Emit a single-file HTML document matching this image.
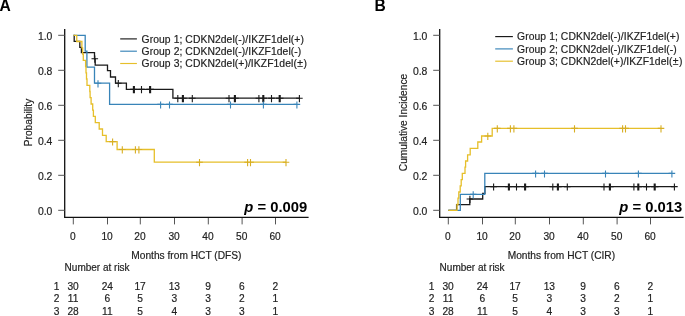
<!DOCTYPE html>
<html><head><meta charset="utf-8"><style>
html,body{margin:0;padding:0;background:#fff;}
svg{display:block;font-family:"Liberation Sans", sans-serif;will-change:transform;}
</style></head><body>
<svg width="685" height="316" viewBox="0 0 685 316">
<rect width="685" height="316" fill="#fff"/>
<text x="-0.5" y="10.7" font-size="15.6" font-weight="bold">A</text>
<path d="M64.70,29 V217.3 H308.60" fill="none" stroke="#111" stroke-width="1.3"/>
<path d="M58.20,210.30H64.70" stroke="#555" stroke-width="1"/>
<text x="52.40" y="214.70" font-size="10.4" text-anchor="end" fill="#222" stroke="#222" stroke-width="0.18">0.0</text>
<path d="M58.20,175.30H64.70" stroke="#555" stroke-width="1"/>
<text x="52.40" y="179.70" font-size="10.4" text-anchor="end" fill="#222" stroke="#222" stroke-width="0.18">0.2</text>
<path d="M58.20,140.30H64.70" stroke="#555" stroke-width="1"/>
<text x="52.40" y="144.70" font-size="10.4" text-anchor="end" fill="#222" stroke="#222" stroke-width="0.18">0.4</text>
<path d="M58.20,105.30H64.70" stroke="#555" stroke-width="1"/>
<text x="52.40" y="109.70" font-size="10.4" text-anchor="end" fill="#222" stroke="#222" stroke-width="0.18">0.6</text>
<path d="M58.20,70.30H64.70" stroke="#555" stroke-width="1"/>
<text x="52.40" y="74.70" font-size="10.4" text-anchor="end" fill="#222" stroke="#222" stroke-width="0.18">0.8</text>
<path d="M58.20,35.30H64.70" stroke="#555" stroke-width="1"/>
<text x="52.40" y="39.70" font-size="10.4" text-anchor="end" fill="#222" stroke="#222" stroke-width="0.18">1.0</text>
<path d="M73.30,218V224.4" stroke="#555" stroke-width="1"/>
<text x="72.90" y="240.2" font-size="10.2" text-anchor="middle" fill="#222" stroke="#222" stroke-width="0.18">0</text>
<path d="M107.50,218V224.4" stroke="#555" stroke-width="1"/>
<text x="107.10" y="240.2" font-size="10.2" text-anchor="middle" fill="#222" stroke="#222" stroke-width="0.18">10</text>
<path d="M140.30,218V224.4" stroke="#555" stroke-width="1"/>
<text x="139.90" y="240.2" font-size="10.2" text-anchor="middle" fill="#222" stroke="#222" stroke-width="0.18">20</text>
<path d="M174.50,218V224.4" stroke="#555" stroke-width="1"/>
<text x="174.10" y="240.2" font-size="10.2" text-anchor="middle" fill="#222" stroke="#222" stroke-width="0.18">30</text>
<path d="M208.30,218V224.4" stroke="#555" stroke-width="1"/>
<text x="207.90" y="240.2" font-size="10.2" text-anchor="middle" fill="#222" stroke="#222" stroke-width="0.18">40</text>
<path d="M242.10,218V224.4" stroke="#555" stroke-width="1"/>
<text x="241.70" y="240.2" font-size="10.2" text-anchor="middle" fill="#222" stroke="#222" stroke-width="0.18">50</text>
<path d="M275.50,218V224.4" stroke="#555" stroke-width="1"/>
<text x="275.10" y="240.2" font-size="10.2" text-anchor="middle" fill="#222" stroke="#222" stroke-width="0.18">60</text>
<text x="186.40" y="258.8" font-size="10.2" text-anchor="middle" fill="#222" stroke="#222" stroke-width="0.18">Months from HCT (DFS)</text>
<text transform="translate(31.70,122.5) rotate(-90)" font-size="10.2" text-anchor="middle" fill="#222" stroke="#222" stroke-width="0.18">Probability</text>
<text x="307.30" y="212.4" font-size="14.8" font-weight="bold" text-anchor="end"><tspan font-style="italic">p</tspan> = 0.009</text>
<path d="M120.20,38.90H136.90" stroke="#1a1a1a" stroke-width="1.15"/>
<text x="141.60" y="42.50" font-size="10.35" letter-spacing="0.07" fill="#222" stroke="#222" stroke-width="0.18">Group 1; CDKN2del(-)/IKZF1del(+)</text>
<path d="M120.20,51.20H136.90" stroke="#3884b8" stroke-width="1.15"/>
<text x="141.60" y="54.80" font-size="10.35" letter-spacing="0.07" fill="#222" stroke="#222" stroke-width="0.18">Group 2; CDKN2del(-)/IKZF1del(-)</text>
<path d="M120.20,63.50H136.90" stroke="#e6bf2a" stroke-width="1.15"/>
<text x="141.60" y="67.10" font-size="10.35" letter-spacing="0.07" fill="#222" stroke="#222" stroke-width="0.18">Group 3; CDKN2del(+)/IKZF1del(<tspan dx="0.3">±</tspan><tspan dx="0.6">)</tspan></text>
<text x="64.60" y="271.0" font-size="10" fill="#222" stroke="#222" stroke-width="0.18">Number at risk</text>
<text x="59.30" y="289.90" font-size="10.2" text-anchor="end" fill="#222" stroke="#222" stroke-width="0.18">1</text>
<text x="73.10" y="289.90" font-size="10.2" text-anchor="middle" fill="#222" stroke="#222" stroke-width="0.18">30</text>
<text x="107.30" y="289.90" font-size="10.2" text-anchor="middle" fill="#222" stroke="#222" stroke-width="0.18">24</text>
<text x="140.10" y="289.90" font-size="10.2" text-anchor="middle" fill="#222" stroke="#222" stroke-width="0.18">17</text>
<text x="174.30" y="289.90" font-size="10.2" text-anchor="middle" fill="#222" stroke="#222" stroke-width="0.18">13</text>
<text x="208.10" y="289.90" font-size="10.2" text-anchor="middle" fill="#222" stroke="#222" stroke-width="0.18">9</text>
<text x="241.90" y="289.90" font-size="10.2" text-anchor="middle" fill="#222" stroke="#222" stroke-width="0.18">6</text>
<text x="275.30" y="289.90" font-size="10.2" text-anchor="middle" fill="#222" stroke="#222" stroke-width="0.18">2</text>
<text x="59.30" y="302.30" font-size="10.2" text-anchor="end" fill="#222" stroke="#222" stroke-width="0.18">2</text>
<text x="73.10" y="302.30" font-size="10.2" text-anchor="middle" fill="#222" stroke="#222" stroke-width="0.18">11</text>
<text x="107.30" y="302.30" font-size="10.2" text-anchor="middle" fill="#222" stroke="#222" stroke-width="0.18">6</text>
<text x="140.10" y="302.30" font-size="10.2" text-anchor="middle" fill="#222" stroke="#222" stroke-width="0.18">5</text>
<text x="174.30" y="302.30" font-size="10.2" text-anchor="middle" fill="#222" stroke="#222" stroke-width="0.18">3</text>
<text x="208.10" y="302.30" font-size="10.2" text-anchor="middle" fill="#222" stroke="#222" stroke-width="0.18">3</text>
<text x="241.90" y="302.30" font-size="10.2" text-anchor="middle" fill="#222" stroke="#222" stroke-width="0.18">2</text>
<text x="275.30" y="302.30" font-size="10.2" text-anchor="middle" fill="#222" stroke="#222" stroke-width="0.18">1</text>
<text x="59.30" y="314.60" font-size="10.2" text-anchor="end" fill="#222" stroke="#222" stroke-width="0.18">3</text>
<text x="73.10" y="314.60" font-size="10.2" text-anchor="middle" fill="#222" stroke="#222" stroke-width="0.18">28</text>
<text x="107.30" y="314.60" font-size="10.2" text-anchor="middle" fill="#222" stroke="#222" stroke-width="0.18">11</text>
<text x="140.10" y="314.60" font-size="10.2" text-anchor="middle" fill="#222" stroke="#222" stroke-width="0.18">5</text>
<text x="174.30" y="314.60" font-size="10.2" text-anchor="middle" fill="#222" stroke="#222" stroke-width="0.18">4</text>
<text x="208.10" y="314.60" font-size="10.2" text-anchor="middle" fill="#222" stroke="#222" stroke-width="0.18">3</text>
<text x="241.90" y="314.60" font-size="10.2" text-anchor="middle" fill="#222" stroke="#222" stroke-width="0.18">3</text>
<text x="275.30" y="314.60" font-size="10.2" text-anchor="middle" fill="#222" stroke="#222" stroke-width="0.18">1</text>
<text x="374.5" y="10.7" font-size="15.6" font-weight="bold">B</text>
<path d="M439.70,29 V217.3 H683.60" fill="none" stroke="#111" stroke-width="1.3"/>
<path d="M433.20,210.30H439.70" stroke="#555" stroke-width="1"/>
<text x="427.40" y="214.70" font-size="10.4" text-anchor="end" fill="#222" stroke="#222" stroke-width="0.18">0.0</text>
<path d="M433.20,175.30H439.70" stroke="#555" stroke-width="1"/>
<text x="427.40" y="179.70" font-size="10.4" text-anchor="end" fill="#222" stroke="#222" stroke-width="0.18">0.2</text>
<path d="M433.20,140.30H439.70" stroke="#555" stroke-width="1"/>
<text x="427.40" y="144.70" font-size="10.4" text-anchor="end" fill="#222" stroke="#222" stroke-width="0.18">0.4</text>
<path d="M433.20,105.30H439.70" stroke="#555" stroke-width="1"/>
<text x="427.40" y="109.70" font-size="10.4" text-anchor="end" fill="#222" stroke="#222" stroke-width="0.18">0.6</text>
<path d="M433.20,70.30H439.70" stroke="#555" stroke-width="1"/>
<text x="427.40" y="74.70" font-size="10.4" text-anchor="end" fill="#222" stroke="#222" stroke-width="0.18">0.8</text>
<path d="M433.20,35.30H439.70" stroke="#555" stroke-width="1"/>
<text x="427.40" y="39.70" font-size="10.4" text-anchor="end" fill="#222" stroke="#222" stroke-width="0.18">1.0</text>
<path d="M448.30,218V224.4" stroke="#555" stroke-width="1"/>
<text x="447.90" y="240.2" font-size="10.2" text-anchor="middle" fill="#222" stroke="#222" stroke-width="0.18">0</text>
<path d="M482.50,218V224.4" stroke="#555" stroke-width="1"/>
<text x="482.10" y="240.2" font-size="10.2" text-anchor="middle" fill="#222" stroke="#222" stroke-width="0.18">10</text>
<path d="M515.30,218V224.4" stroke="#555" stroke-width="1"/>
<text x="514.90" y="240.2" font-size="10.2" text-anchor="middle" fill="#222" stroke="#222" stroke-width="0.18">20</text>
<path d="M549.50,218V224.4" stroke="#555" stroke-width="1"/>
<text x="549.10" y="240.2" font-size="10.2" text-anchor="middle" fill="#222" stroke="#222" stroke-width="0.18">30</text>
<path d="M583.30,218V224.4" stroke="#555" stroke-width="1"/>
<text x="582.90" y="240.2" font-size="10.2" text-anchor="middle" fill="#222" stroke="#222" stroke-width="0.18">40</text>
<path d="M617.10,218V224.4" stroke="#555" stroke-width="1"/>
<text x="616.70" y="240.2" font-size="10.2" text-anchor="middle" fill="#222" stroke="#222" stroke-width="0.18">50</text>
<path d="M650.50,218V224.4" stroke="#555" stroke-width="1"/>
<text x="650.10" y="240.2" font-size="10.2" text-anchor="middle" fill="#222" stroke="#222" stroke-width="0.18">60</text>
<text x="561.40" y="258.8" font-size="10.2" text-anchor="middle" fill="#222" stroke="#222" stroke-width="0.18">Months from HCT (CIR)</text>
<text transform="translate(406.70,122.5) rotate(-90)" font-size="10.2" text-anchor="middle" fill="#222" stroke="#222" stroke-width="0.18">Cumulative Incidence</text>
<text x="682.30" y="212.4" font-size="14.8" font-weight="bold" text-anchor="end"><tspan font-style="italic">p</tspan> = 0.013</text>
<path d="M495.20,36.60H512.90" stroke="#1a1a1a" stroke-width="1.15"/>
<text x="517.10" y="40.20" font-size="10.35" letter-spacing="0.07" fill="#222" stroke="#222" stroke-width="0.18">Group 1; CDKN2del(-)/IKZF1del(+)</text>
<path d="M495.20,48.90H512.90" stroke="#3884b8" stroke-width="1.15"/>
<text x="517.10" y="52.50" font-size="10.35" letter-spacing="0.07" fill="#222" stroke="#222" stroke-width="0.18">Group 2; CDKN2del(-)/IKZF1del(-)</text>
<path d="M495.20,61.20H512.90" stroke="#e6bf2a" stroke-width="1.15"/>
<text x="517.10" y="64.80" font-size="10.35" letter-spacing="0.07" fill="#222" stroke="#222" stroke-width="0.18">Group 3; CDKN2del(+)/IKZF1del(<tspan dx="0.3">±</tspan><tspan dx="0.6">)</tspan></text>
<text x="439.60" y="271.0" font-size="10" fill="#222" stroke="#222" stroke-width="0.18">Number at risk</text>
<text x="434.30" y="289.90" font-size="10.2" text-anchor="end" fill="#222" stroke="#222" stroke-width="0.18">1</text>
<text x="448.10" y="289.90" font-size="10.2" text-anchor="middle" fill="#222" stroke="#222" stroke-width="0.18">30</text>
<text x="482.30" y="289.90" font-size="10.2" text-anchor="middle" fill="#222" stroke="#222" stroke-width="0.18">24</text>
<text x="515.10" y="289.90" font-size="10.2" text-anchor="middle" fill="#222" stroke="#222" stroke-width="0.18">17</text>
<text x="549.30" y="289.90" font-size="10.2" text-anchor="middle" fill="#222" stroke="#222" stroke-width="0.18">13</text>
<text x="583.10" y="289.90" font-size="10.2" text-anchor="middle" fill="#222" stroke="#222" stroke-width="0.18">9</text>
<text x="616.90" y="289.90" font-size="10.2" text-anchor="middle" fill="#222" stroke="#222" stroke-width="0.18">6</text>
<text x="650.30" y="289.90" font-size="10.2" text-anchor="middle" fill="#222" stroke="#222" stroke-width="0.18">2</text>
<text x="434.30" y="302.30" font-size="10.2" text-anchor="end" fill="#222" stroke="#222" stroke-width="0.18">2</text>
<text x="448.10" y="302.30" font-size="10.2" text-anchor="middle" fill="#222" stroke="#222" stroke-width="0.18">11</text>
<text x="482.30" y="302.30" font-size="10.2" text-anchor="middle" fill="#222" stroke="#222" stroke-width="0.18">6</text>
<text x="515.10" y="302.30" font-size="10.2" text-anchor="middle" fill="#222" stroke="#222" stroke-width="0.18">5</text>
<text x="549.30" y="302.30" font-size="10.2" text-anchor="middle" fill="#222" stroke="#222" stroke-width="0.18">3</text>
<text x="583.10" y="302.30" font-size="10.2" text-anchor="middle" fill="#222" stroke="#222" stroke-width="0.18">3</text>
<text x="616.90" y="302.30" font-size="10.2" text-anchor="middle" fill="#222" stroke="#222" stroke-width="0.18">2</text>
<text x="650.30" y="302.30" font-size="10.2" text-anchor="middle" fill="#222" stroke="#222" stroke-width="0.18">1</text>
<text x="434.30" y="314.60" font-size="10.2" text-anchor="end" fill="#222" stroke="#222" stroke-width="0.18">3</text>
<text x="448.10" y="314.60" font-size="10.2" text-anchor="middle" fill="#222" stroke="#222" stroke-width="0.18">28</text>
<text x="482.30" y="314.60" font-size="10.2" text-anchor="middle" fill="#222" stroke="#222" stroke-width="0.18">11</text>
<text x="515.10" y="314.60" font-size="10.2" text-anchor="middle" fill="#222" stroke="#222" stroke-width="0.18">5</text>
<text x="549.30" y="314.60" font-size="10.2" text-anchor="middle" fill="#222" stroke="#222" stroke-width="0.18">4</text>
<text x="583.10" y="314.60" font-size="10.2" text-anchor="middle" fill="#222" stroke="#222" stroke-width="0.18">3</text>
<text x="616.90" y="314.60" font-size="10.2" text-anchor="middle" fill="#222" stroke="#222" stroke-width="0.18">3</text>
<text x="650.30" y="314.60" font-size="10.2" text-anchor="middle" fill="#222" stroke="#222" stroke-width="0.18">1</text>
<path d="M73.50,35.30 H74.20 V41.40 H79.80 V47.40 H81.40 V52.60 H94.50 V58.80 H95.20 V65.10 H107.50 V70.60 H110.50 V77.00 H115.50 V83.20 H126.40 V89.30 H172.90 V98.20 H299.40" fill="none" stroke="#1a1a1a" stroke-width="1.3"/>
<path d="M91.50,58.80H98.10M94.80,55.60V62.80M115.00,83.20H121.60M118.30,80.00V87.20M130.10,89.30H136.70M133.40,86.10V93.30M131.10,89.30H137.70M134.40,86.10V93.30M138.20,89.30H144.80M141.50,86.10V93.30M146.30,89.30H152.90M149.60,86.10V93.30M147.30,89.30H153.90M150.60,86.10V93.30M174.50,98.20H181.10M177.80,95.00V102.20M179.10,98.20H185.70M182.40,95.00V102.20M180.10,98.20H186.70M183.40,95.00V102.20M189.00,98.20H195.60M192.30,95.00V102.20M225.70,98.20H232.30M229.00,95.00V102.20M231.10,98.20H237.70M234.40,95.00V102.20M232.10,98.20H238.70M235.40,95.00V102.20M255.60,98.20H262.20M258.90,95.00V102.20M259.50,98.20H266.10M262.80,95.00V102.20M260.50,98.20H267.10M263.80,95.00V102.20M268.20,98.20H274.80M271.50,95.00V102.20M275.90,98.20H282.50M279.20,95.00V102.20M276.90,98.20H283.50M280.20,95.00V102.20M296.10,98.20H302.70M299.40,95.00V102.20" fill="none" stroke="#1a1a1a" stroke-width="1.1"/>
<path d="M73.50,35.30 H85.20 V51.20 H86.90 V67.10 H94.50 V83.20 H109.60 V104.40 H296.90" fill="none" stroke="#3884b8" stroke-width="1.3"/>
<path d="M94.70,83.20H101.30M98.00,80.20V87.40M157.30,104.40H163.90M160.60,101.40V108.60M166.20,104.40H172.80M169.50,101.40V108.60M227.20,104.40H233.80M230.50,101.40V108.60M260.10,104.40H266.70M263.40,101.40V108.60M293.60,104.40H300.20M296.90,101.40V108.60" fill="none" stroke="#3884b8" stroke-width="1.1"/>
<path d="M73.50,35.30 H76.75 V41.50 H81.90 V47.80 H82.60 V54.00 H83.30 V60.30 H85.60 V66.50 H86.00 V72.80 H86.50 V79.00 H87.00 V85.40 H89.80 V91.50 H90.10 V97.70 H91.10 V104.00 H92.70 V110.20 H93.40 V116.30 H95.30 V122.60 H99.20 V129.00 H102.50 V135.30 H106.20 V141.60 H117.10 V149.50 H154.30 V162.20 H286.00" fill="none" stroke="#e6bf2a" stroke-width="1.3"/>
<path d="M109.30,141.60H115.90M112.60,138.40V145.60M119.00,149.50H125.60M122.30,146.30V153.50M132.10,149.50H138.70M135.40,146.30V153.50M135.60,149.50H142.20M138.90,146.30V153.50M196.20,162.20H202.80M199.50,159.00V166.20M244.30,162.20H250.90M247.60,159.00V166.20M247.20,162.20H253.80M250.50,159.00V166.20M282.70,162.20H289.30M286.00,159.00V166.20" fill="none" stroke="#d8ae22" stroke-width="1.1"/>
<path d="M448.30,210.30 H456.60 V204.70 H469.80 V199.00 H482.70 V193.30 H484.90 V186.60 H674.30" fill="none" stroke="#1a1a1a" stroke-width="1.3"/>
<path d="M466.60,199.00H473.20M469.90,195.80V203.00M505.10,186.60H511.70M508.40,183.40V190.60M506.10,186.60H512.70M509.40,183.40V190.60M513.20,186.60H519.80M516.50,183.40V190.60M521.30,186.60H527.90M524.60,183.40V190.60M522.30,186.60H528.90M525.60,183.40V190.60M549.50,186.60H556.10M552.80,183.40V190.60M554.10,186.60H560.70M557.40,183.40V190.60M555.10,186.60H561.70M558.40,183.40V190.60M564.00,186.60H570.60M567.30,183.40V190.60M600.70,186.60H607.30M604.00,183.40V190.60M606.10,186.60H612.70M609.40,183.40V190.60M607.10,186.60H613.70M610.40,183.40V190.60M630.60,186.60H637.20M633.90,183.40V190.60M634.50,186.60H641.10M637.80,183.40V190.60M635.50,186.60H642.10M638.80,183.40V190.60M643.20,186.60H649.80M646.50,183.40V190.60M650.90,186.60H657.50M654.20,183.40V190.60M651.90,186.60H658.50M655.20,183.40V190.60M671.10,186.60H677.70M674.40,183.40V190.60M490.30,186.60H496.90M493.60,183.40V190.60" fill="none" stroke="#1a1a1a" stroke-width="1.1"/>
<path d="M448.30,210.30 H460.30 V194.30 H484.80 V173.40 H671.90" fill="none" stroke="#3884b8" stroke-width="1.3"/>
<path d="M469.90,194.30H476.50M473.20,191.30V198.50M532.30,173.40H538.90M535.60,170.40V177.60M541.20,173.40H547.80M544.50,170.40V177.60M602.20,173.40H608.80M605.50,170.40V177.60M635.10,173.40H641.70M638.40,170.40V177.60M668.60,173.40H675.20M671.90,170.40V177.60" fill="none" stroke="#3884b8" stroke-width="1.1"/>
<path d="M448.30,210.30 H457.00 V204.30 H458.00 V198.20 H458.80 V192.00 H460.20 V185.80 H461.20 V179.60 H462.30 V173.40 H465.00 V167.20 H465.60 V161.00 H467.60 V154.80 H470.20 V148.30 H477.80 V142.00 H481.60 V136.00 H492.20 V128.40 H661.00" fill="none" stroke="#e6bf2a" stroke-width="1.3"/>
<path d="M484.50,136.00H491.10M487.80,132.80V140.00M494.00,128.40H500.60M497.30,125.20V132.40M507.10,128.40H513.70M510.40,125.20V132.40M510.60,128.40H517.20M513.90,125.20V132.40M571.20,128.40H577.80M574.50,125.20V132.40M619.30,128.40H625.90M622.60,125.20V132.40M622.20,128.40H628.80M625.50,125.20V132.40M657.70,128.40H664.30M661.00,125.20V132.40" fill="none" stroke="#d8ae22" stroke-width="1.1"/>
</svg>
</body></html>
